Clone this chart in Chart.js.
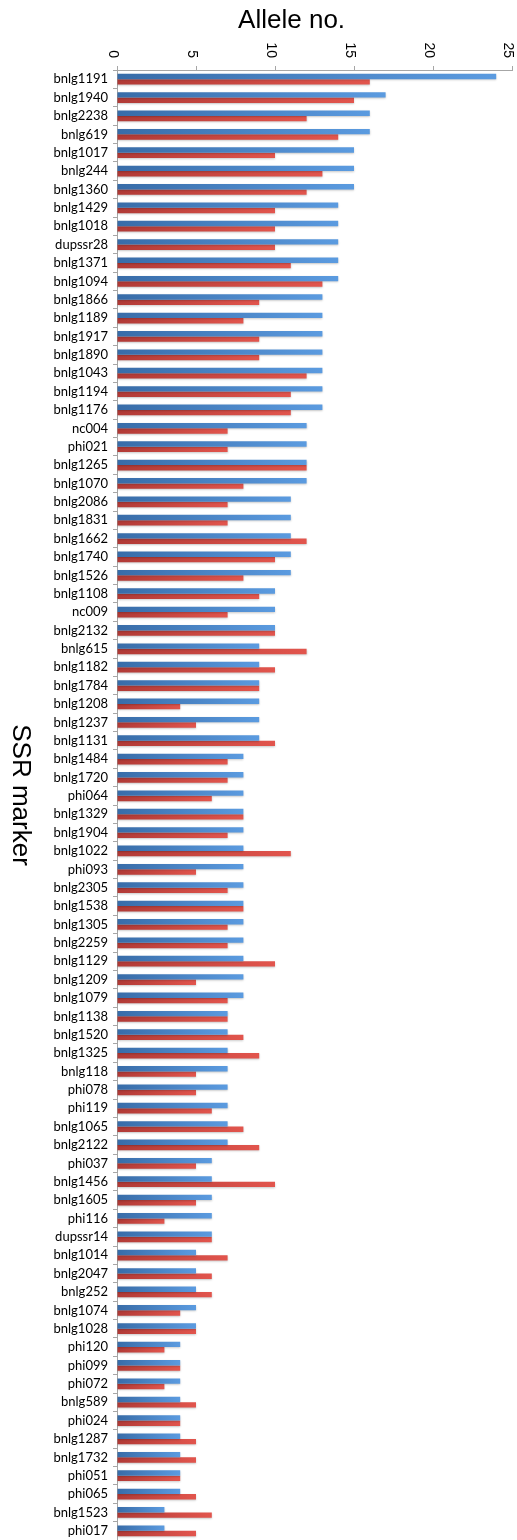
<!DOCTYPE html>
<html>
<head>
<meta charset="utf-8">
<script src="https://cdn.jsdelivr.net/npm/chart.js@4.4.1/dist/chart.umd.min.js"></script>
<style>
  html, body { margin: 0; padding: 0; background: #ffffff; }
  #wrap { position: relative; width: 517px; height: 1540px; }
</style>
</head>
<body>
<div id="wrap"><canvas id="chart"></canvas></div>
<script>
// SSR markers, ordered by allele count
const markers = [
  'bnlg1191','bnlg1940','bnlg2238','bnlg619','bnlg1017','bnlg244','bnlg1360','bnlg1429','bnlg1018','dupssr28',
  'bnlg1371','bnlg1094','bnlg1866','bnlg1189','bnlg1917','bnlg1890','bnlg1043','bnlg1194','bnlg1176','nc004',
  'phi021','bnlg1265','bnlg1070','bnlg2086','bnlg1831','bnlg1662','bnlg1740','bnlg1526','bnlg1108','nc009',
  'bnlg2132','bnlg615','bnlg1182','bnlg1784','bnlg1208','bnlg1237','bnlg1131','bnlg1484','bnlg1720','phi064',
  'bnlg1329','bnlg1904','bnlg1022','phi093','bnlg2305','bnlg1538','bnlg1305','bnlg2259','bnlg1129','bnlg1209',
  'bnlg1079','bnlg1138','bnlg1520','bnlg1325','bnlg118','phi078','phi119','bnlg1065','bnlg2122','phi037',
  'bnlg1456','bnlg1605','phi116','dupssr14','bnlg1014','bnlg2047','bnlg252','bnlg1074','bnlg1028','phi120',
  'phi099','phi072','bnlg589','phi024','bnlg1287','bnlg1732','phi051','phi065','bnlg1523','phi017'
];

// Allele numbers per marker, first population
const allelesPop1 = [
  24,17,16,16,15,15,15,14,14,14,
  14,14,13,13,13,13,13,13,13,12,
  12,12,12,11,11,11,11,11,10,10,
  10,9,9,9,9,9,9,8,8,8,
  8,8,8,8,8,8,8,8,8,8,
  8,7,7,7,7,7,7,7,7,6,
  6,6,6,6,5,5,5,5,5,4,
  4,4,4,4,4,4,4,4,3,3
];

// Allele numbers per marker, second population
const allelesPop2 = [
  16,15,12,14,10,13,12,10,10,10,
  11,13,9,8,9,9,12,11,11,7,
  7,12,8,7,7,12,10,8,9,7,
  10,12,10,9,4,5,10,7,7,6,
  8,7,11,5,7,8,7,7,10,5,
  7,7,8,9,5,5,6,8,9,5,
  10,5,3,6,7,6,6,4,5,3,
  4,3,5,4,5,5,4,5,6,5
];

const valueTicks = [0, 5, 10, 15, 20, 25];
const valueTitle = 'Allele no.';
const markerTitle = 'SSR marker';

const AXIS_GREY = '#a6a6a6';

// Horizontal gradient running from the base of each bar to its end
function barGradient(dark, light) {
  return (ctx) => {
    const chart = ctx.chart;
    const xs = chart.scales && chart.scales.x;
    if (!xs || ctx.type !== 'data') return dark;
    const x0 = xs.getPixelForValue(0);
    const x1 = xs.getPixelForValue(ctx.raw);
    if (!isFinite(x0) || !isFinite(x1) || x1 === x0) return dark;
    const g = chart.ctx.createLinearGradient(x0, 0, x1, 0);
    g.addColorStop(0, dark);
    g.addColorStop(1, light);
    return g;
  };
}

// Soft drop shadow under the bars, plus the rotated texts
const decorations = {
  id: 'decorations',
  beforeDatasetsDraw(chart) {
    const c = chart.ctx;
    c.save();
    c.shadowColor = 'rgba(0,0,0,0.22)';
    c.shadowBlur = 2;
    c.shadowOffsetX = 0;
    c.shadowOffsetY = 1;
  },
  afterDatasetsDraw(chart) {
    chart.ctx.restore();
  },
  afterDraw(chart) {
    const c = chart.ctx;
    const xs = chart.scales.x;
    const area = chart.chartArea;

    // value tick labels, turned to read top to bottom
    c.save();
    c.fillStyle = '#000';
    c.font = '14px "Liberation Sans", Arial, sans-serif';
    c.textAlign = 'right';
    c.textBaseline = 'alphabetic';
    valueTicks.forEach(v => {
      const px = xs.getPixelForValue(v);
      c.save();
      c.translate(px, area.top - 12);
      c.rotate(Math.PI / 2);
      c.fillText(String(v), 0, 8);
      c.restore();
    });
    c.restore();

    // value axis title
    c.save();
    c.fillStyle = '#000';
    c.font = '26px "Liberation Sans", Arial, sans-serif';
    c.textAlign = 'center';
    c.textBaseline = 'middle';
    c.fillText(valueTitle, xs.left + (xs.right - xs.left) * 0.442, 21);
    c.restore();

    // marker axis title, turned to read top to bottom
    c.save();
    c.fillStyle = '#000';
    c.font = '26px "Liberation Sans", Arial, sans-serif';
    c.textAlign = 'center';
    c.textBaseline = 'middle';
    c.translate(20, 795);
    c.rotate(Math.PI / 2);
    c.fillText(markerTitle, 0, 0);
    c.restore();
  }
};

new Chart(document.getElementById('chart'), {
  type: 'bar',
  data: {
    labels: markers,
    datasets: [
      {
        label: 'Population 1',
        data: allelesPop1,
        backgroundColor: barGradient('#386ca8', '#5b9be0'),
        borderWidth: 0,
        categoryPercentage: 0.58,
        barPercentage: 1.0
      },
      {
        label: 'Population 2',
        data: allelesPop2,
        backgroundColor: barGradient('#b13a36', '#e2554d'),
        borderWidth: 0,
        categoryPercentage: 0.58,
        barPercentage: 1.0
      }
    ]
  },
  options: {
    indexAxis: 'y',
    responsive: true,
    maintainAspectRatio: false,
    animation: false,
    devicePixelRatio: 1,
    layout: { padding: { top: 0, right: 5, bottom: 0, left: 0 } },
    plugins: {
      legend: { display: false },
      tooltip: { enabled: false }
    },
    scales: {
      x: {
        position: 'top',
        min: 0,
        max: 25,
        ticks: { stepSize: 5, display: false },
        grid: { drawOnChartArea: false, drawTicks: true, tickLength: 4, color: AXIS_GREY },
        border: { display: true, color: AXIS_GREY, width: 1 },
        afterFit(scale) { scale.height = 70; }
      },
      y: {
        ticks: {
          autoSkip: false,
          padding: 5,
          color: '#000',
          font: { family: 'Lato, "Open Sans", sans-serif', size: 13 }
        },
        grid: { drawOnChartArea: false, drawTicks: true, tickLength: 4, color: AXIS_GREY, offset: true },
        border: { display: true, color: AXIS_GREY, width: 1 },
        afterFit(scale) {
          scale.width = 117;
          // the marker list runs to the very bottom edge
          scale.paddingTop = 0;
          scale.paddingBottom = 0;
        }
      }
    }
  },
  plugins: [decorations]
});
</script>
</body>
</html>
